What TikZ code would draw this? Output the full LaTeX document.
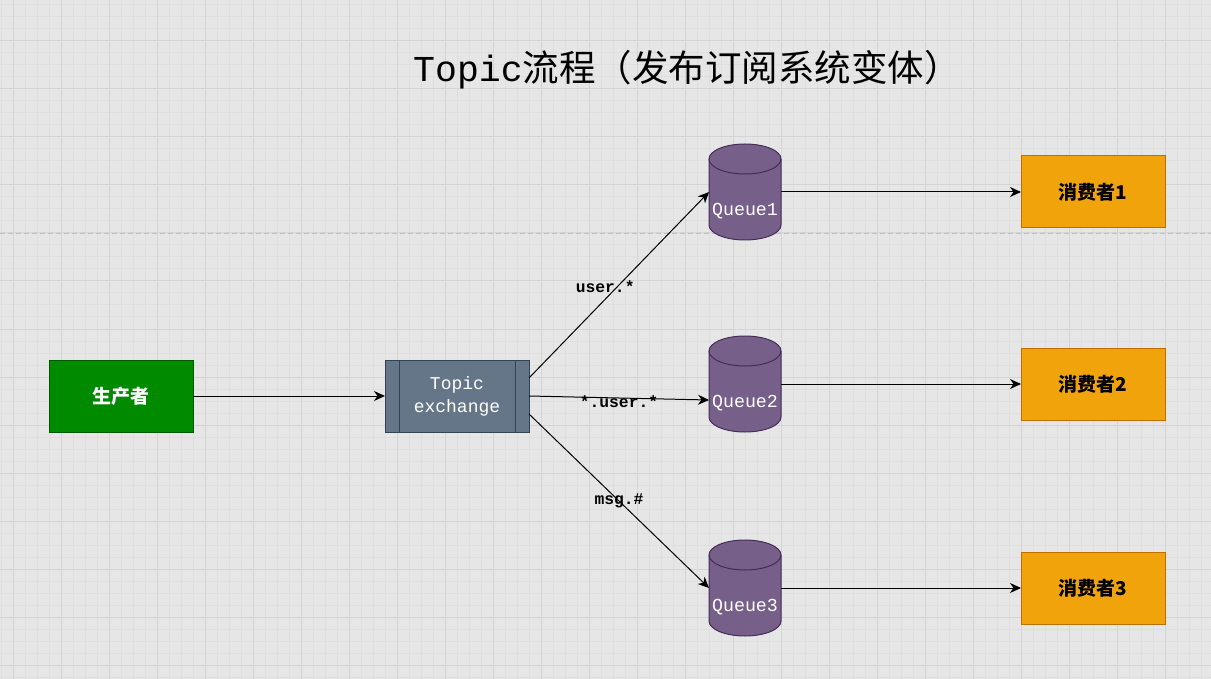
\documentclass[tikz,border=0pt]{standalone}
\usepackage{fontspec}
\setmonofont{Liberation Mono}
\newfontfamily\cjk{Noto Sans CJK SC}
\usetikzlibrary{arrows.meta, positioning, backgrounds}
\definecolor{PageBg}{HTML}{E6E6E6}
\definecolor{GridMinor}{HTML}{DFDFDF}
\definecolor{GridMajor}{HTML}{D4D4D4}
\definecolor{PageBreak}{HTML}{C2C2C2}
\definecolor{ProdFill}{HTML}{008A00}
\definecolor{ProdInk}{HTML}{005700}
\definecolor{ExchFill}{HTML}{647687}
\definecolor{ExchInk}{HTML}{314354}
\definecolor{QueueFill}{HTML}{76608A}
\definecolor{QueueInk}{HTML}{432D57}
\definecolor{ConsFill}{HTML}{F0A30A}
\definecolor{ConsInk}{HTML}{BD7000}

\begin{document}
\begin{tikzpicture}[
    x=1pt, y=1pt,
    box/.style={
      rectangle,
      line width=1pt,
      minimum width=144pt,
      minimum height=72pt,
      inner sep=0pt,
      outer sep=0pt,
    },
    producer/.style={
      box,
      draw=ProdInk,
      fill=ProdFill,
      text=white,
      font=\cjk\bfseries\fontsize{19}{23}\selectfont,
    },
    exchange/.style={
      box,
      draw=ExchInk,
      fill=ExchFill,
      text=white,
      align=center,
      font=\ttfamily\fontsize{18}{23}\selectfont,
    },
    queue/.style={
      rectangle,
      minimum width=72pt,
      minimum height=96pt,
      inner sep=0pt,
      outer sep=0pt,
    },
    queuetext/.style={
      text=white,
      yshift=-19pt,
      font=\ttfamily\fontsize{18.3}{22}\selectfont,
    },
    consumer/.style={
      box,
      draw=ConsInk,
      fill=ConsFill,
      text=black,
      font=\cjk\bfseries\fontsize{19}{23}\selectfont,
    },
    tag/.style={
      inner sep=0pt,
      font=\ttfamily\bfseries\fontsize{16.3}{20}\selectfont,
    },
    flow/.style={
      line width=1pt,
      -{Stealth[length=11pt, width=10pt, inset=3.5pt]},
    },
  ]
    \useasboundingbox (0,0) rectangle (1211,-679);

    \node[font=\fontsize{36.5}{40}\selectfont] (title) at (687,-70)
      {{\ttfamily Topic}{\cjk 流程（发布订阅系统变体）}};

    \node[producer] (prod) at (121,-396) {生产者};
    \node[exchange, right=192pt of prod] (exch) {Topic\\exchange};

    \node[queue, right=180pt of exch, yshift=12pt,
      label={[queuetext]center:Queue2}] (q2) {};
    \node[queue, above=96pt of q2,
      label={[queuetext]center:Queue1}] (q1) {};
    \node[queue, below=108pt of q2,
      label={[queuetext]center:Queue3}] (q3) {};

    \node[consumer, right=240pt of q1] (c1) {消费者1};
    \node[consumer, right=240pt of q2] (c2) {消费者2};
    \node[consumer, right=240pt of q3] (c3) {消费者3};

    % side bars of the exchange
    \draw[ExchInk, line width=1pt]
      ([xshift=14pt]exch.north west) -- ([xshift=14pt]exch.south west)
      ([xshift=-14pt]exch.north east) -- ([xshift=-14pt]exch.south east);

    \draw[flow] (prod) -- (exch);
    \draw[flow] ([yshift=18pt]exch.east) --
      node[tag, pos=0.49, xshift=-12pt] {user.*} (q1.west);
    \draw[flow] (exch.east) --
      node[tag, pos=0.5, yshift=-4pt] {*.user.*} ([yshift=-16pt]q2.west);
    \draw[flow] ([yshift=-18pt]exch.east) --
      node[tag, pos=0.5] {msg.\#} (q3.west);
    \foreach \i in {1,2,3} {
      \draw[flow] (q\i) -- (c\i);
    }

    \begin{scope}[on background layer]
      \fill[PageBg] (0,0) rectangle (1211,-679);
      \begin{scope}
        \clip (0,0) rectangle (1211,-679);
        \draw[GridMinor, line width=1pt, xshift=1pt, yshift=-5pt, step=12pt]
          (-24,24) grid (1236,-708);
        \draw[GridMajor, line width=1pt, xshift=13pt, yshift=-41pt, step=48pt]
          (-48,96) grid (1248,-720);
      \end{scope}
      \draw[PageBreak, line width=1pt, dash pattern=on 5pt off 3pt]
        (0,-234) -- (1211,-234);
      % cylinder bodies behind the queue labels
      \foreach \q in {q1,q2,q3} {
        \filldraw[fill=QueueFill, draw=QueueInk, line width=1pt]
          ([yshift=-15pt]\q.north west) -- ([yshift=15pt]\q.south west)
          arc[start angle=180, end angle=360, x radius=36pt, y radius=15pt]
          -- ([yshift=-15pt]\q.north east)
          arc[start angle=0, end angle=180, x radius=36pt, y radius=15pt]
          -- cycle;
        \draw[QueueInk, line width=1pt]
          ([yshift=-15pt]\q.north west)
          arc[start angle=180, end angle=360, x radius=36pt, y radius=15pt];
      }
    \end{scope}
  \end{tikzpicture}
\end{document}
